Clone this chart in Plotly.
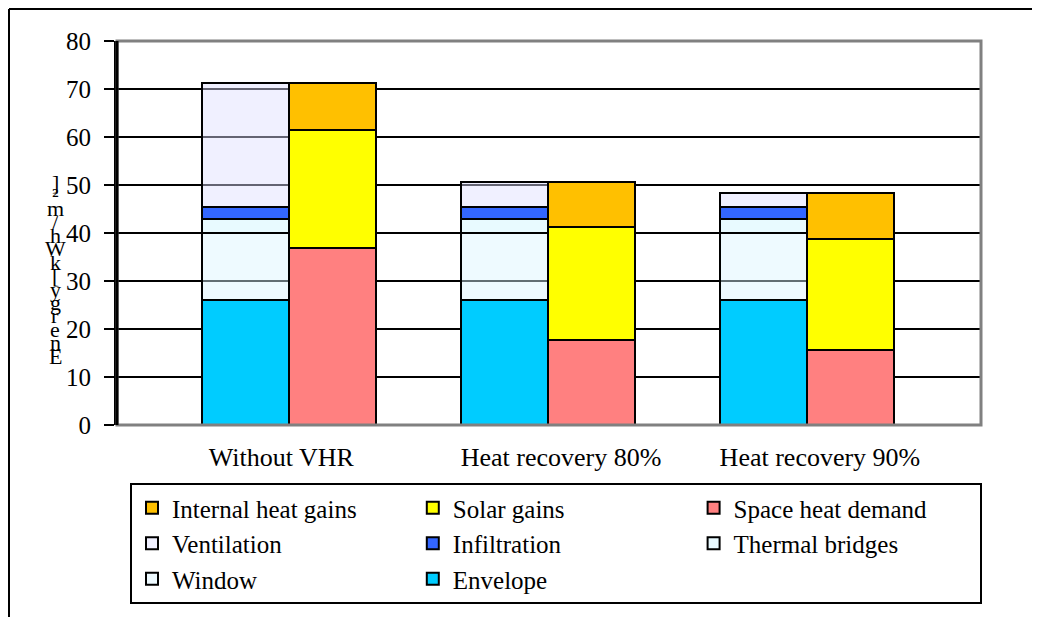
import plotly.graph_objects as go

# categorias e valores (kWh/m2)
categorias = ["Without VHR", "Heat recovery 80%", "Heat recovery 90%"]
envelope = [26.0, 26.0, 26.0]
window = [14.0, 14.0, 14.0]
thermal_bridges = [3.0, 3.0, 3.0]
infiltration = [2.5, 2.5, 2.5]
ventilation = [25.8, 5.2, 2.8]
space_heat = [36.8, 17.7, 15.6]
solar_gains = [24.7, 23.5, 23.1]
internal_gains = [9.8, 9.5, 9.7]
y_ticks = [0, 10, 20, 30, 40, 50, 60, 70, 80]
y_title = "Energy [kWh/m²]"

# a pagina desenha a figura com 8 px de margem do body
OFF = 8
W, H = 1040 - OFF, 617 - OFF
L, R, T, B = 117 - OFF, 981 - OFF, 41 - OFF, 425 - OFF   # area do grafico


def px_x(px):
    # px na imagem de referencia -> coordenada paper
    return (px - OFF - L) / (R - L)


def px_y(py):
    return (B - (py - OFF)) / (B - T)


FONTE = "Liberation Serif, Times New Roman, serif"
pos = list(range(len(categorias)))
largura = 0.336
x_perdas = [p - largura / 2 for p in pos]
x_ganhos = [p + largura / 2 for p in pos]
# rotulos das categorias ficam um pouco deslocados, como no original
pos_rotulos = [p + d for p, d in zip(pos, [-0.03, 0.05, 0.05])]

fig = go.Figure()

series = [
    ("Envelope", envelope, x_perdas, "#00CCFF"),
    ("Window", window, x_perdas, "rgba(218,243,255,0.45)"),
    ("Thermal bridges", thermal_bridges, x_perdas, "rgba(205,245,255,0.45)"),
    ("Infiltration", infiltration, x_perdas, "#3366FF"),
    ("Ventilation", ventilation, x_perdas, "rgba(222,222,255,0.45)"),
    ("Space heat demand", space_heat, x_ganhos, "#FF8080"),
    ("Solar gains", solar_gains, x_ganhos, "#FFFF00"),
    ("Internal heat gains", internal_gains, x_ganhos, "#FFC000"),
]

for nome, valores, xs, cor in series:
    fig.add_trace(go.Bar(
        x=xs,
        y=valores,
        name=nome,
        width=largura,
        marker=dict(color=cor, line=dict(color="black", width=2)),
    ))

fig.update_layout(
    width=W,
    height=H,
    barmode="stack",
    plot_bgcolor="white",
    paper_bgcolor="white",
    margin=dict(l=L, r=W - R, t=T, b=H - B, autoexpand=False),
    font=dict(family=FONTE, size=25, color="black"),
    legend=dict(
        orientation="h",
        traceorder="reversed",
        x=px_x(130),
        y=px_y(483),
        xanchor="left",
        yanchor="top",
        bordercolor="black",
        borderwidth=2,
        entrywidthmode="fraction",
        entrywidth=0.325,
        font=dict(family=FONTE, size=25),
        itemwidth=30,
    ),
    xaxis=dict(
        range=[-0.665, 2.672],
        tickmode="array",
        tickvals=pos_rotulos,
        ticktext=categorias,
        showgrid=False,
        zeroline=False,
        showline=False,
        ticks="",
        ticklabelstandoff=14,
        tickfont=dict(family=FONTE, size=26),
    ),
    yaxis=dict(
        range=[0, 80],
        tickmode="array",
        tickvals=y_ticks,
        showgrid=True,
        gridcolor="black",
        gridwidth=2,
        zeroline=False,
        showline=True,
        linecolor="black",
        linewidth=3,
        ticks="outside",
        ticklen=10,
        tickwidth=2,
        tickcolor="black",
        ticklabelstandoff=8,
        tickfont=dict(family=FONTE, size=25),
    ),
)

# moldura cinza da area do grafico
fig.add_shape(type="rect", xref="paper", yref="paper", x0=0, x1=1, y0=0, y1=1,
              line=dict(color="#808080", width=3), layer="above")
fig.add_shape(type="line", xref="paper", yref="paper", x0=0, x1=0, y0=0, y1=1,
              line=dict(color="black", width=3), layer="above")

# moldura externa (linhas superior e esquerda)
fig.add_shape(type="line", xref="paper", yref="paper",
              x0=px_x(9), x1=px_x(1032), y0=px_y(9), y1=px_y(9),
              line=dict(color="black", width=2))
fig.add_shape(type="line", xref="paper", yref="paper",
              x0=px_x(9), x1=px_x(9), y0=px_y(9), y1=px_y(617),
              line=dict(color="black", width=2))

# titulo do eixo y: letras empilhadas, como no original
letras = list(reversed(y_title.replace(" ", "")))
topo, base = 182, 356
passo = (base - topo) / (len(letras) - 1)
for i, letra in enumerate(letras):
    fig.add_annotation(
        x=px_x(55), y=px_y(topo + i * passo), xref="paper", yref="paper",
        text=letra, showarrow=False,
        font=dict(family=FONTE, size=22, color="black"),
        xanchor="center", yanchor="middle",
    )

fig.write_html("out.html")
